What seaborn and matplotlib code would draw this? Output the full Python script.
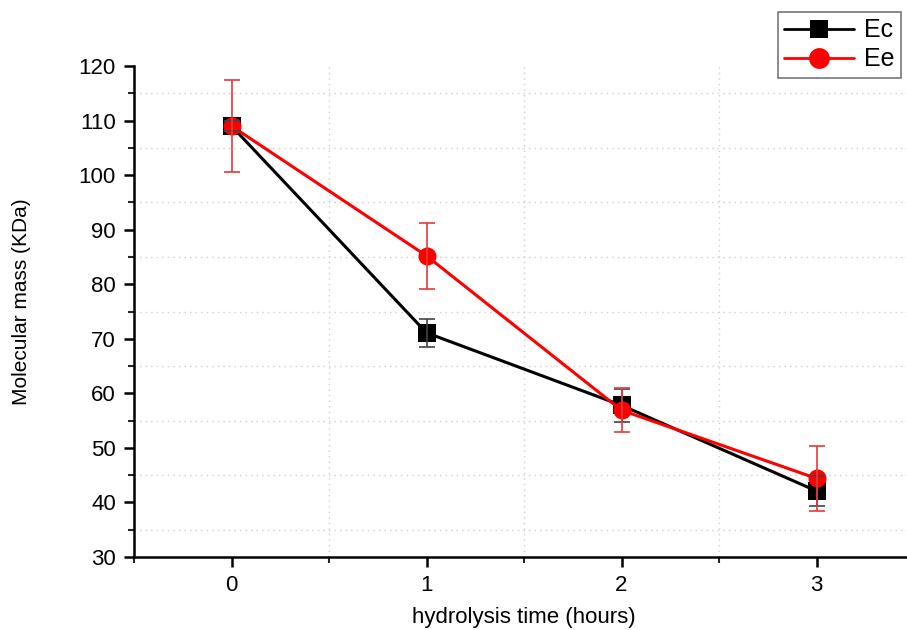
import matplotlib
matplotlib.use("Agg")
import matplotlib.pyplot as plt
import seaborn as sns
import pandas as pd
from matplotlib.ticker import MultipleLocator
from matplotlib.lines import Line2D

hours = [0, 1, 2, 3]
ec_mass = [109.0, 71.1, 57.8, 42.1]
ec_err = [1.0, 2.6, 3.0, 2.8]
ee_mass = [109.0, 85.2, 56.9, 44.4]
ee_err = [8.4, 6.0, 4.0, 6.0]
series_names = ["Ec", "Ee"]

sns.set_style("white")
plt.rcParams['font.family'] = ['Liberation Sans', 'DejaVu Sans']
plt.rcParams['text.color'] = 'black'
plt.rcParams['axes.labelcolor'] = 'black'

df = pd.DataFrame({
    "hours": hours * 2,
    "mass": ec_mass + ee_mass,
    "series": [series_names[0]] * 4 + [series_names[1]] * 4,
})

fig = plt.figure(figsize=(9.07, 6.30), dpi=100)
ax = fig.add_axes([134/907, 73/630, 780/907, 491/630])

palette = {"Ec": "black", "Ee": "#ff0000"}
sns.lineplot(data=df, x="hours", y="mass", hue="series", style="series",
             markers={"Ec": "s", "Ee": "o"}, dashes=False, palette=palette,
             markersize=13, linewidth=2.2, markeredgewidth=0, ax=ax, legend=False)

ax.errorbar(hours, ec_mass, yerr=ec_err, fmt="none", ecolor="#444444",
            elinewidth=1.2, capsize=6, capthick=1.2, zorder=5)
ax.errorbar(hours, ee_mass, yerr=ee_err, fmt="none", ecolor="#e83a3a",
            elinewidth=1.2, capsize=6, capthick=1.2, zorder=6)

ax.set_xlim(-0.5, 3.5)
ax.set_ylim(30, 120)
ax.xaxis.set_major_locator(MultipleLocator(1))
ax.xaxis.set_minor_locator(MultipleLocator(0.5))
ax.yaxis.set_major_locator(MultipleLocator(10))
ax.yaxis.set_minor_locator(MultipleLocator(5))

ax.grid(False)
for v in [0.5, 1.5, 2.5]:
    ax.axvline(v, color="#cfcfcf", linestyle=(0, (1, 3)), linewidth=1, zorder=0)
for v in range(35, 120, 10):
    ax.axhline(v, color="#cfcfcf", linestyle=(0, (1, 3)), linewidth=1, zorder=0)

for s in ["top", "right"]:
    ax.spines[s].set_visible(False)
for s in ["left", "bottom"]:
    ax.spines[s].set_linewidth(1.8)
    ax.spines[s].set_color("black")

ax.tick_params(axis="both", which="major", direction="out", length=7, width=1.8,
               labelsize=16, bottom=True, left=True, colors="black", pad=6)
ax.tick_params(axis="both", which="minor", direction="out", length=4, width=1.5,
               bottom=True, left=True)

ax.set_xlabel("hydrolysis time (hours)", fontsize=16)
ax.xaxis.set_label_coords((524 - 134) / 780, -(618 - 557) / 491)
ax.xaxis.label.set_va("center")
ax.set_ylabel("Molecular mass (KDa)", fontsize=15)
ax.yaxis.set_label_coords((22 - 134) / 780, (557 - 302) / 491)
ax.yaxis.label.set_va("center")

handles = [
    Line2D([], [], color="black", marker="s", markersize=13, linewidth=2, markeredgewidth=0),
    Line2D([], [], color="#ff0000", marker="o", markersize=15, linewidth=2, markeredgewidth=0),
]
leg = fig.legend(handles, series_names, loc="upper left", bbox_to_anchor=(778/907, 1 - 12/630),
                 fontsize=18, frameon=True, fancybox=False, edgecolor="#555555",
                 borderpad=0.25, handlelength=2.8, handletextpad=0.4, labelspacing=0.2,
                 borderaxespad=0)
leg.get_frame().set_linewidth(1.2)

fig.savefig("out.png", dpi=100)
